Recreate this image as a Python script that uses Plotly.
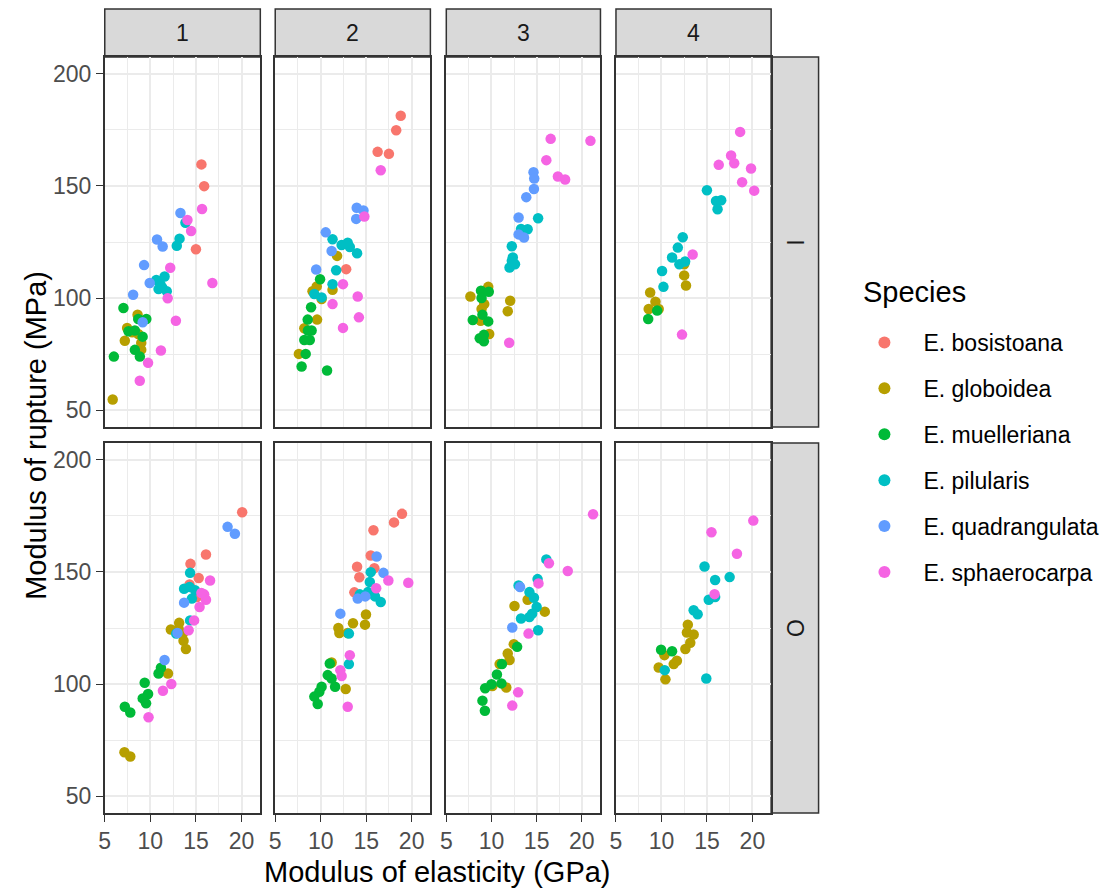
import plotly.graph_objects as go

# ---------------- data ----------------
SPECIES = ["E. bosistoana", "E. globoidea", "E. muelleriana",
           "E. pilularis", "E. quadrangulata", "E. sphaerocarpa"]
SPECIES_CODES = ["B", "G", "M", "P", "Q", "S"]
COLORS = ["#F8766D", "#B79F00", "#00BA38", "#00BFC4", "#619CFF", "#F564E3"]
ROW_LABELS = ["I", "O"]
COL_LABELS = ["1", "2", "3", "4"]
X_TICKS = [5, 10, 15, 20]
Y_TICKS = [50, 100, 150, 200]
X_MINOR = [7.5, 12.5, 17.5]
Y_MINOR = [75, 125, 175]

# panel I / 1
I1_sp = "BBBGGGGGGGGMMMMMMMMMPPPPPPPPPQQQQQQQSSSSSSSSSS"
I1_moe = [15.6, 15.9, 15.0,
          5.87, 8.6, 7.45, 7.2, 8.0, 9.0, 9.0, 8.67,
          7.05, 6.0, 8.67, 9.56, 7.6, 8.3, 9.15, 8.3, 8.85,
          13.85, 13.2, 12.9, 10.65, 11.56, 11.1, 10.9, 11.8, 11.3,
          13.3, 10.73, 11.35, 9.31, 9.93, 8.11, 9.16,
          15.67, 14.07, 14.47, 12.18, 16.8, 11.9, 12.8, 11.16, 9.75, 8.84]
I1_mor = [159.6, 149.9, 121.8,
          54.8, 92.6, 86.7, 81.0, 84.7, 80.0, 77.0, 84.0,
          95.6, 73.9, 90.7, 90.7, 85.2, 85.5, 82.8, 76.9, 73.9,
          133.6, 126.5, 123.3, 108.1, 109.6, 106.2, 104.0, 103.0, 104.7,
          137.9, 126.1, 123.0, 114.7, 106.7, 101.5, 89.2,
          139.7, 134.8, 129.9, 113.5, 106.7, 99.9, 89.9, 76.6, 71.1, 63.1]

# panel I / 2
I2_sp = "BBBBBGGGGGGGGMMMMMMMMMMPPPPPPPPPQQQQQQSSSSSSS"
I2_moe = [18.8, 18.3, 16.26, 17.5, 12.8,
          11.8, 11.3, 9.1, 9.56, 10.1, 9.6, 8.2, 7.6,
          9.93, 8.94, 8.57, 9.0, 8.6, 8.2, 8.8, 8.35, 7.9, 10.7,
          11.3, 12.3, 12.97, 13.2, 14.0, 11.7, 11.3, 9.3, 10.1,
          13.96, 14.7, 13.9, 10.55, 11.2, 9.5,
          16.6, 14.8, 12.45, 14.07, 11.3, 14.2, 12.45]
I2_mor = [181.3, 174.8, 165.2, 164.3, 112.9,
          118.8, 103.7, 103.0, 105.2, 99.6, 90.4, 86.5, 75.1,
          108.4, 95.9, 90.4, 85.5, 85.5, 81.3, 81.3, 75.1, 69.5, 67.7,
          126.2, 123.7, 124.7, 122.8, 120.0, 112.4, 106.2, 101.8, 100.3,
          140.3, 139.1, 135.3, 129.3, 121.0, 112.7,
          157.0, 136.4, 106.2, 100.7, 97.3, 91.4, 86.7]

# panel I / 3
I3_sp = "GGGGGGGGMMMMMMMMMPPPPPPPPQQQQQQQSSSSSS"
I3_moe = [9.64, 7.67, 12.07, 11.8, 9.2, 8.9, 8.8, 9.75,
          8.84, 9.7, 8.9, 7.93, 9.64, 9.0, 9.16, 8.7, 9.16,
          15.16, 13.27, 14.0, 12.25, 12.36, 12.25, 12.6, 12.0,
          14.65, 14.73, 14.7, 13.85, 13.0, 13.0, 13.6,
          16.55, 20.95, 16.07, 17.35, 18.15, 11.96]
I3_mor = [105.0, 100.7, 98.8, 94.1, 97.3, 95.1, 89.9, 84.0,
          103.3, 102.8, 100.0, 90.2, 89.6, 92.6, 83.6, 82.1, 80.7,
          135.6, 130.8, 130.7, 123.1, 118.1, 116.6, 115.1, 113.6,
          156.1, 153.3, 148.6, 145.0, 135.9, 128.4, 127.0,
          171.0, 170.1, 161.5, 154.2, 152.9, 80.1]

# panel I / 4
I4_sp = "GGGGGGGMMPPPPPPPPPPPSSSSSSSSS"
I4_moe = [12.5, 12.5, 12.7, 8.76, 9.34, 8.6, 9.7,
          8.54, 9.53,
          15.0, 16.0, 16.57, 16.17, 12.34, 11.8, 11.17, 11.97, 12.6, 10.07, 10.22,
          18.65, 17.66, 16.3, 18.0, 19.85, 18.87, 20.2, 13.43, 12.26]
I4_mor = [115.1, 110.1, 105.6, 102.5, 98.4, 95.1, 95.1,
          90.7, 94.4,
          148.1, 143.3, 143.6, 139.6, 127.1, 122.5, 118.1, 115.1, 116.3, 112.1, 105.0,
          174.1, 163.6, 159.4, 160.1, 157.8, 151.7, 147.9, 119.4, 83.7]

# panel O / 1
O1_sp = "BBBBBBGGGGGGGGGMMMMMMMMPPPPPPPQQQQQSSSSSSSSSS"
O1_moe = [20.07, 16.1, 14.4, 15.3, 14.3, 15.1,
          13.16, 12.25, 13.1, 13.56, 13.64, 13.9, 11.93, 7.16, 7.8,
          11.16, 10.9, 9.38, 9.75, 9.16, 9.53, 7.2, 7.8,
          14.36, 13.7, 14.3, 14.9, 14.55, 14.36, 12.84,
          18.47, 19.27, 13.7, 11.56, 12.98,
          16.55, 15.9, 16.1, 15.6, 15.4, 14.8, 14.2, 12.3, 11.38, 9.8]
O1_mor = [176.6, 157.8, 153.6, 147.3, 144.4, 138.8,
          127.3, 124.3, 124.7, 122.5, 119.3, 115.6, 104.7, 69.6, 67.7,
          107.3, 104.7, 100.6, 95.6, 93.6, 91.4, 89.9, 87.3,
          149.6, 142.5, 143.3, 141.8, 138.1, 128.4, 122.5,
          170.1, 167.0, 136.3, 110.7, 122.8,
          146.2, 140.0, 137.6, 140.6, 134.4, 128.4, 124.0, 100.0, 97.0, 85.2]

# panel O / 2
O2_sp = "BBBBBBBBGGGGGGGGMMMMMMMMPPPPPPPPQQQQQSSSSSSS"
O2_moe = [18.94, 18.06, 15.8, 15.5, 15.9, 14.0, 14.25, 13.7,
          14.98, 14.87, 13.55, 11.94, 12.05, 12.97, 11.2, 12.75,
          11.0, 10.77, 11.2, 11.58, 10.1, 9.85, 9.3, 9.67,
          15.5, 15.4, 15.2, 14.3, 15.97, 16.6, 13.1, 13.1,
          16.15, 16.9, 14.07, 14.9, 12.16,
          17.44, 19.63, 16.1, 13.2, 12.16, 12.3, 12.97]
O2_mor = [175.9, 172.1, 168.6, 157.3, 151.7, 152.3, 147.6, 140.9,
          131.0, 126.5, 127.1, 125.0, 122.8, 122.8, 109.6, 97.8,
          109.2, 104.0, 102.5, 98.8, 98.8, 96.6, 94.4, 91.1,
          149.9, 145.5, 141.0, 140.0, 139.1, 136.6, 122.5, 108.9,
          156.9, 149.6, 138.1, 139.1, 131.4,
          146.2, 145.2, 142.7, 112.9, 106.2, 103.6, 89.9]

# panel O / 3
O3_sp = "GGGGGGGGGMMMMMMMMPPPPPPPPPPQQSSSSSSS"
O3_moe = [14.0, 12.55, 15.9, 12.47, 11.8, 12.0, 10.9, 11.64, 10.1,
          12.84, 11.16, 10.6, 11.1, 10.0, 9.3, 9.0, 9.27,
          16.07, 15.1, 13.0, 14.2, 14.7, 15.0, 14.5, 14.2, 13.27, 15.16,
          13.16, 12.3,
          21.24, 16.36, 18.44, 15.2, 14.1, 12.95, 12.3]
O3_mor = [137.6, 134.8, 132.3, 117.8, 113.6, 110.7, 108.9, 98.5, 99.1,
          116.6, 108.9, 104.3, 100.3, 99.9, 98.1, 92.6, 88.1,
          155.6, 146.8, 144.0, 141.0, 138.5, 134.4, 131.4, 129.9, 129.2, 124.0,
          143.3, 125.2,
          175.7, 153.9, 150.4, 144.9, 122.5, 96.3, 90.4]

# panel O / 4
O4_sp = "GGGGGGGGGGMMPPPPPPPPPSSSS"
O4_moe = [12.9, 12.8, 13.54, 13.17, 12.63, 11.7, 11.35, 10.33, 9.7, 10.44,
          9.96, 11.17,
          14.74, 17.5, 15.9, 15.9, 15.2, 13.54, 13.98, 10.36, 14.93,
          20.1, 15.5, 18.3, 15.84]
O4_mor = [126.5, 123.0, 122.1, 118.4, 115.6, 110.4, 108.9, 112.9, 107.4, 102.1,
          115.3, 114.6,
          152.4, 147.7, 146.4, 138.8, 137.6, 132.9, 131.1, 106.2, 102.5,
          172.9, 167.7, 158.1, 140.1]

PANELS = [
    (I1_sp, I1_moe, I1_mor), (I2_sp, I2_moe, I2_mor),
    (I3_sp, I3_moe, I3_mor), (I4_sp, I4_moe, I4_mor),
    (O1_sp, O1_moe, O1_mor), (O2_sp, O2_moe, O2_mor),
    (O3_sp, O3_moe, O3_mor), (O4_sp, O4_moe, O4_mor),
]

# ---------------- layout geometry (pixels) ----------------
W, H = 1107, 893
COL_PX = [(99.3, 255.7), (270.7, 426.7), (442.7, 597.7), (613.3, 769.3)]
ROW_PX = [(57, 427), (443, 813)]
STRIP_TOP = (9, 57)
STRIP_RIGHT = (769.3, 817)
X_RANGE = [5.0, 22.06]
Y_RANGE = [42.5, 207.5]

FONT = "Liberation Sans, Arial, Helvetica, sans-serif"
BORDER = "#333333"
GRID = "#EBEBEB"


def px_x(v):
    return v / W


def px_y(v):
    return 1 - v / H


fig = go.Figure()

# points
for si, code in enumerate(SPECIES_CODES):
    shown = False
    for k, (sp, moe, mor) in enumerate(PANELS):
        xs = [x for x, c in zip(moe, sp) if c == code]
        ys = [y for y, c in zip(mor, sp) if c == code]
        if not xs:
            continue
        n = k + 1
        fig.add_trace(go.Scatter(
            x=xs, y=ys, mode="markers",
            xaxis="x" if n == 1 else f"x{n}",
            yaxis="y" if n == 1 else f"y{n}",
            marker=dict(color=COLORS[si], size=10.5, line=dict(width=0)),
            name=SPECIES[si], legendgroup=SPECIES[si],
            showlegend=not shown,
        ))
        shown = True

layout = dict(
    width=W, height=H, autosize=False,
    margin=dict(l=0, r=0, t=0, b=0),
    paper_bgcolor="white", plot_bgcolor="white",
    font=dict(family=FONT, color="#000000"),
    showlegend=True,
    legend=dict(
        x=px_x(844), y=px_y(321), xanchor="left", yanchor="top",
        font=dict(size=23, color="#000000", family=FONT),
        tracegroupgap=13, itemsizing="constant", itemwidth=68,
        bgcolor="rgba(0,0,0,0)",
    ),
)

shapes = []
annotations = []

for r in range(2):
    for c in range(4):
        n = r * 4 + c + 1
        xname = "xaxis" if n == 1 else f"xaxis{n}"
        yname = "yaxis" if n == 1 else f"yaxis{n}"
        xa = "x" if n == 1 else f"x{n}"
        ya = "y" if n == 1 else f"y{n}"
        bottom = r == 1
        left = c == 0
        layout[xname] = dict(
            domain=[px_x(COL_PX[c][0]), px_x(COL_PX[c][1])],
            anchor=ya, range=X_RANGE, tickmode="array", tickvals=X_TICKS,
            ticktext=[str(v) for v in X_TICKS],
            showticklabels=bottom, ticks="outside" if bottom else "",
            ticklen=7, tickwidth=1.4, tickcolor=BORDER,
            tickfont=dict(size=23, color="#4D4D4D", family=FONT),
            showgrid=True, gridcolor=GRID, gridwidth=1.8,
            minor=dict(tickmode="array", tickvals=X_MINOR, showgrid=True,
                       gridcolor=GRID, gridwidth=0.9, ticks=""),
            showline=True, mirror=True, linecolor=BORDER, linewidth=1.5,
            zeroline=False, fixedrange=True,
        )
        layout[yname] = dict(
            domain=[px_y(ROW_PX[r][1]), px_y(ROW_PX[r][0])],
            anchor=xa, range=Y_RANGE, tickmode="array", tickvals=Y_TICKS,
            ticktext=[str(v) for v in Y_TICKS],
            showticklabels=left, ticks="outside" if left else "",
            ticklen=7, tickwidth=1.4, tickcolor=BORDER,
            tickfont=dict(size=23, color="#4D4D4D", family=FONT),
            showgrid=True, gridcolor=GRID, gridwidth=1.8,
            minor=dict(tickmode="array", tickvals=Y_MINOR, showgrid=True,
                       gridcolor=GRID, gridwidth=0.9, ticks=""),
            showline=True, mirror=True, linecolor=BORDER, linewidth=1.5,
            zeroline=False, fixedrange=True,
        )

# top strips
for c, lab in enumerate(COL_LABELS):
    x0, x1 = COL_PX[c]
    shapes.append(dict(type="rect", xref="paper", yref="paper",
                       x0=px_x(x0), x1=px_x(x1), y0=px_y(STRIP_TOP[1]), y1=px_y(STRIP_TOP[0]),
                       fillcolor="#D9D9D9", line=dict(color=BORDER, width=1.5), layer="below"))
    annotations.append(dict(text=lab, xref="paper", yref="paper",
                            x=px_x((x0 + x1) / 2), y=px_y((STRIP_TOP[0] + STRIP_TOP[1]) / 2),
                            xanchor="center", yanchor="middle", showarrow=False,
                            font=dict(size=23, color="#1A1A1A", family=FONT)))

# right strips
for r, lab in enumerate(ROW_LABELS):
    y0, y1 = ROW_PX[r]
    shapes.append(dict(type="rect", xref="paper", yref="paper",
                       x0=px_x(STRIP_RIGHT[0]), x1=px_x(STRIP_RIGHT[1]), y0=px_y(y1), y1=px_y(y0),
                       fillcolor="#D9D9D9", line=dict(color=BORDER, width=1.5), layer="below"))
    annotations.append(dict(text=lab, xref="paper", yref="paper",
                            x=px_x((STRIP_RIGHT[0] + STRIP_RIGHT[1]) / 2), y=px_y((y0 + y1) / 2),
                            xanchor="center", yanchor="middle", showarrow=False, textangle=90,
                            font=dict(size=23, color="#1A1A1A", family=FONT)))

# axis titles and legend title
annotations.append(dict(text="Modulus of elasticity (GPa)", xref="paper", yref="paper",
                        x=px_x((COL_PX[0][0] + COL_PX[3][1]) / 2), y=px_y(872),
                        xanchor="center", yanchor="middle", showarrow=False,
                        font=dict(size=29, color="#000000", family=FONT)))
annotations.append(dict(text="Modulus of rupture (MPa)", xref="paper", yref="paper",
                        x=px_x(30), y=px_y((ROW_PX[0][0] + ROW_PX[1][1]) / 2),
                        xanchor="center", yanchor="middle", showarrow=False, textangle=-90,
                        font=dict(size=29, color="#000000", family=FONT)))
annotations.append(dict(text="Species", xref="paper", yref="paper",
                        x=px_x(860), y=px_y(292), xanchor="left", yanchor="middle",
                        showarrow=False,
                        font=dict(size=29, color="#000000", family=FONT)))

layout["shapes"] = shapes
layout["annotations"] = annotations
fig.update_layout(**layout)
fig.write_html(
    "out.html",
    config={"displayModeBar": False},
    post_script="document.body.style.margin='0';document.body.style.overflow='hidden';",
)
